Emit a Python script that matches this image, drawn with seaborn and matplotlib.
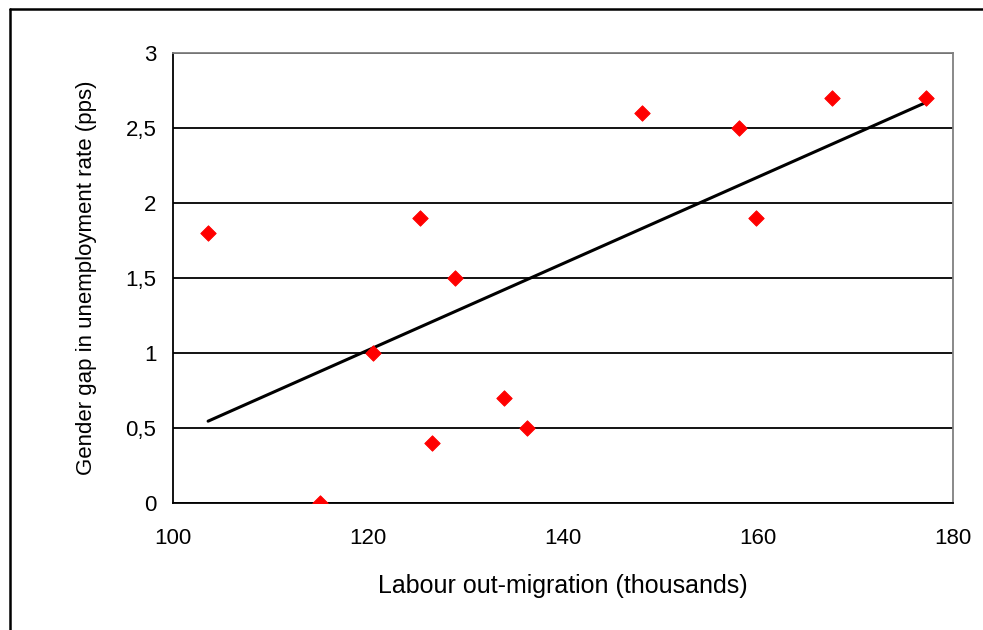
import numpy as np
import pandas as pd
import matplotlib
matplotlib.use('Agg')
import matplotlib.pyplot as plt
from matplotlib.ticker import FuncFormatter, MultipleLocator
from matplotlib.lines import Line2D
import seaborn as sns

# Data
migration = [103.6, 115.1, 120.5, 125.3, 126.6, 128.9, 133.9, 136.3,
             148.1, 158.1, 159.8, 167.6, 177.2]
gender_gap = [1.8, 0.0, 1.0, 1.9, 0.4, 1.5, 0.7, 0.5,
              2.6, 2.5, 1.9, 2.7, 2.7]

df = pd.DataFrame({'migration': migration, 'gap': gender_gap})

sns.set_style('white')
plt.rcParams['font.family'] = ['Liberation Sans', 'DejaVu Sans']
plt.rcParams['text.color'] = 'black'
plt.rcParams['axes.labelcolor'] = 'black'

fig = plt.figure(figsize=(9.83, 6.3), dpi=100)
ax = fig.add_axes([0.176, 0.2016, 0.7935, 0.7143])

# trend line (OLS) and points
sns.regplot(data=df, x='migration', y='gap', ax=ax, ci=None, scatter=False,
            color='black', line_kws={'linewidth': 2.2, 'zorder': 3})
sns.scatterplot(data=df, x='migration', y='gap', ax=ax, marker='D',
                color='#ff0000', edgecolor='#ff0000', s=62, zorder=4)

ax.set_xlim(100, 180)
ax.set_ylim(0, 3)
ax.xaxis.set_major_locator(MultipleLocator(20))
ax.yaxis.set_major_locator(MultipleLocator(0.5))
ax.yaxis.set_major_formatter(FuncFormatter(lambda v, p: f'{v:g}'.replace('.', ',')))

ax.grid(axis='y', color='black', linewidth=1.3)
ax.set_axisbelow(True)
for s in ['left', 'bottom']:
    ax.spines[s].set_color('black')
    ax.spines[s].set_linewidth(1.3)
for s in ['top', 'right']:
    ax.spines[s].set_color('#808080')
    ax.spines[s].set_linewidth(1.3)

ax.tick_params(axis='both', direction='out', length=7, width=1.3,
               color='black', labelcolor='black', labelsize=16, pad=5)
ax.tick_params(axis='x', pad=11)
ax.set_xlabel('Labour out-migration (thousands)', fontsize=18, color='black')
ax.set_ylabel('Gender gap in unemployment rate (pps)', fontsize=16, color='black')
ax.xaxis.set_label_coords(0.5, -0.158)
ax.yaxis.set_label_coords(-0.097, 0.5)

# outer chart frame
fig.add_artist(Line2D([0.0105, 0.0105], [0.0, 0.986], transform=fig.transFigure,
                      color='black', linewidth=1.8))
fig.add_artist(Line2D([0.0105, 1.0], [0.986, 0.986], transform=fig.transFigure,
                      color='black', linewidth=1.8))

fig.savefig('out.png', dpi=100)
